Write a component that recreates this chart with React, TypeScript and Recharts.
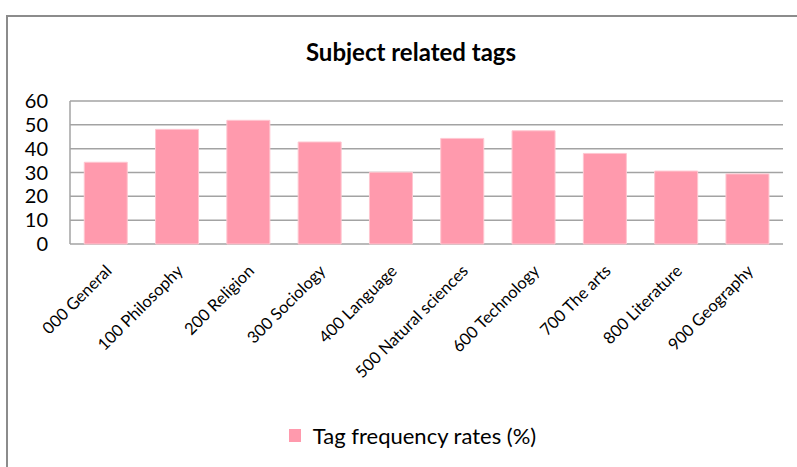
import React from 'react';
import { BarChart, Bar, XAxis, YAxis, CartesianGrid, Legend } from 'recharts';

const categories = [
  '000 General',
  '100 Philosophy',
  '200 Religion',
  '300 Sociology',
  '400 Language',
  '500 Natural sciences',
  '600 Technology',
  '700 The arts',
  '800 Literature',
  '900 Geography',
];
const tagRates = [34.3, 48.1, 51.9, 42.8, 30.1, 44.3, 47.5, 38.0, 30.6, 29.4];
const yTicks = [0, 10, 20, 30, 40, 50, 60];

const seriesName = 'Tag frequency rates (%)';
const data = categories.map((c, i) => ({ name: c, rate: tagRates[i] }));

const FONT = 'Lato, "Open Sans", sans-serif';

// rotated category labels, anchored at the end like Excel does
const AngledTick = (props: any) => {
  const { x, y, payload } = props;
  return (
    <text
      transform={`translate(${x + 7},${y + 20}) rotate(-45)`}
      textAnchor="end"
      fontSize={16.5}
      fontFamily={FONT}
      fill="#000"
    >
      {payload.value}
    </text>
  );
};

const LegendBox = () => (
  <div style={{ display: 'flex', justifyContent: 'center', alignItems: 'center', fontFamily: FONT, fontSize: 22, color: '#000', paddingLeft: 28 }}>
    <span style={{ width: 12, height: 13, background: '#ff9aad', display: 'inline-block', marginRight: 12 }} />
    <span>{seriesName}</span>
  </div>
);

export default function App() {
  return (
    <div style={{ position: 'absolute', left: 0, top: 0, width: 797, height: 467, background: '#fff', overflow: 'hidden' }}>
      <div
        style={{
          position: 'absolute',
          left: 6,
          top: 15,
          width: 820,
          height: 480,
          borderTop: '2px solid #8c8c8c',
          borderLeft: '2px solid #8c8c8c',
        }}
      />
      <div
        style={{
          position: 'absolute',
          left: 0,
          top: 37,
          width: 822,
          textAlign: 'center',
          fontFamily: FONT,
          fontWeight: 'bold',
          fontSize: 24,
          color: '#000',
        }}
      >
        Subject related tags
      </div>
      <BarChart
        width={797}
        height={467}
        data={data}
        margin={{ top: 101, right: 14, left: 0, bottom: 123 }}
        barCategoryGap="20%"
      >
        <CartesianGrid vertical={false} stroke="#a3a3a3" strokeWidth={1.5} />
        <XAxis dataKey="name" interval={0} axisLine={false} tickLine={false} height={100} tick={<AngledTick />} />
        <YAxis
          width={70}
          domain={[0, 60]}
          ticks={yTicks}
          interval={0}
          tickLine={false}
          tickSize={6}
          tickMargin={16}
          axisLine={{ stroke: '#a3a3a3', strokeWidth: 1.5 }}
          tick={{ fontSize: 20, fontFamily: FONT, fill: '#000' }}
        />
        <Legend
          layout="horizontal"
          verticalAlign="middle"
          align="center"
          content={<LegendBox />}
          wrapperStyle={{ position: 'absolute', top: 422, left: 0, width: 797 }}
        />
        <Bar dataKey="rate" name={seriesName} fill="#ff9aad" stroke="#ffc6d0" strokeWidth={1} isAnimationActive={false} />
      </BarChart>
    </div>
  );
}
